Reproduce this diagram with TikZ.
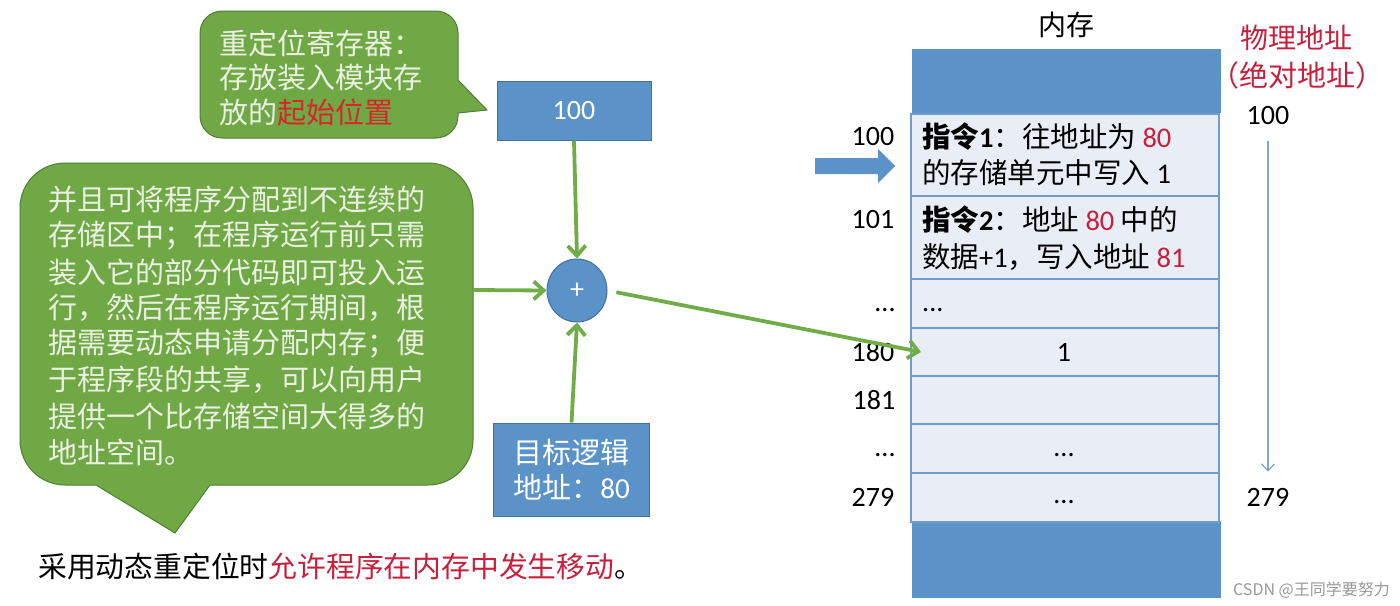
\documentclass[tikz,border=0pt]{standalone}
\usepackage{fontspec}
\setmainfont{Noto Sans CJK SC}
\newfontfamily\lat{Carlito}
\usetikzlibrary{arrows.meta,shapes.geometric}
\definecolor{gfill}{HTML}{70A845}
\definecolor{gdraw}{HTML}{507E32}
\definecolor{garrow}{HTML}{70AD47}
\definecolor{bfill}{HTML}{5B93C8}
\definecolor{bdraw}{HTML}{41719C}
\definecolor{rowfill}{HTML}{E9EEF6}
\definecolor{rowdraw}{HTML}{6D9DCF}
\definecolor{ctext}{HTML}{EAF0E2}
\definecolor{redA}{HTML}{D62828}
\definecolor{redB}{HTML}{C8203C}
\definecolor{thinblue}{HTML}{7FA6D0}
\tikzset{
  callout/.style={fill=gfill, draw=gdraw, line width=1pt},
  bluebox/.style={fill=bfill, draw=bdraw, line width=1pt, inner sep=0pt, text=white},
  gline/.style={draw=garrow, line width=3.8pt, -{Straight Barb[length=10pt,width=18pt]}},
  ctxt/.style={anchor=west, inner sep=0pt, text=ctext, font=\fontsize{29}{36}\selectfont},
  mtxt/.style={inner sep=0pt, font=\fontsize{28}{33}\selectfont, text=black},
  rtxt/.style={anchor=west, inner sep=0pt, font=\fontsize{28.5}{33}\selectfont, text=black},
  memrow/.style={fill=rowfill, draw=rowdraw, line width=1.5pt, anchor=north west, minimum width=308pt, inner sep=0pt},
}
\begin{document}
\begin{tikzpicture}[x=1pt,y=-1pt]
\useasboundingbox (0,0) rectangle (1400,605);
\fill[white] (0,0) rectangle (1400,605);

% top callout
\draw[callout] (487,110) -- (458,80) {[rounded corners=22] -- (458,11) -- (200,11) -- (200,138) -- (458,138)} -- (458,113) -- cycle;
\node[ctxt] (t1) at (219,43) {重定位寄存器：};
\node[ctxt] (t2) at (219,78) {存放装入模块存};
\node[ctxt] (t3) at (219,112) {放的\textcolor{redA}{起始位置}};

% big callout
\draw[callout] (175,533) -- (96,485) {[rounded corners=45] -- (20,485) -- (20,163) -- (473,163) -- (473,485)} -- (210,485) -- cycle;
\node[ctxt] (b1) at (48,200) {并且可将程序分配到不连续的};
\node[ctxt] (b2) at (48,236) {存储区中；在程序运行前只需};
\node[ctxt] (b3) at (48,272) {装入它的部分代码即可投入运};
\node[ctxt] (b4) at (48,308) {行，然后在程序运行期间，根};
\node[ctxt] (b5) at (48,344) {据需要动态申请分配内存；便};
\node[ctxt] (b6) at (48,380) {于程序段的共享，可以向用户};
\node[ctxt] (b7) at (48,416) {提供一个比存储空间大得多的};
\node[ctxt] (b8) at (48,452) {地址空间。};
\coordinate (cw) at (473,290);

% boxes and adder
\node[bluebox, minimum width=154pt, minimum height=59pt, font=\fontsize{28}{30}\selectfont\lat] (reg) at (574,110.5) {100};
\node[ellipse, fill=bfill, draw=bdraw, line width=1pt, minimum width=60pt, minimum height=63pt, inner sep=0pt, text=white, font=\fontsize{28}{28}\selectfont\lat] (plus) at (577,290.5) {+};
\node[bluebox, minimum width=156pt, minimum height=93pt, align=center, font=\fontsize{29}{35}\selectfont] (la) at (571.5,469.5) {目标逻辑\\地址：{\lat 80}};

% memory
\fill[bfill] (912,49) rectangle (1221,113);
\fill[bfill] (912,521) rectangle (1221,598);
\node[memrow, minimum height=82pt] (r1) at (910,113) {};
\node[memrow, minimum height=83pt] (r2) at (910,195) {};
\node[memrow, minimum height=49pt] (r3) at (910,278) {};
\node[memrow, minimum height=48pt] (r4) at (910,327) {};
\node[memrow, minimum height=48pt] (r5) at (910,375) {};
\node[memrow, minimum height=49pt] (r6) at (910,423) {};
\node[memrow, minimum height=49pt] (r7) at (910,472) {};

\node[rtxt] (i1a) at (922,137) {\textbf{指令{\lat 1}}：往地址为 \textcolor{redB}{\lat 80}};
\node[rtxt] (i1b) at (922,173) {的存储单元中写入 {\lat 1}};
\node[rtxt] (i2a) at (922,220) {\textbf{指令{\lat 2}}：地址 \textcolor{redB}{\lat 80} 中的};
\node[rtxt] (i2b) at (922,257) {数据{\lat +1}，写入地址 \textcolor{redB}{\lat 81}};
\node[mtxt, anchor=west] (i3) at (922,310) {\lat ...};
\node[mtxt] (i4) at (1064,352) {\lat 1};
\node[mtxt] (i6) at (1064,455) {\lat ...};
\node[mtxt] (i7) at (1064,502) {\lat ...};

\node[mtxt] (memtitle) at (1066,25) {内存};

% left addresses
\node[mtxt] (l100) at (873,137) {\lat 100};
\node[mtxt] (l101) at (873,220) {\lat 101};
\node[mtxt] (ld1) at (885,310) {\lat ...};
\node[mtxt] (l180) at (873,352) {\lat 180};
\node[mtxt] (l181) at (874,400) {\lat 181};
\node[mtxt] (ld2) at (885,455) {\lat ...};
\node[mtxt] (l279) at (873,497) {\lat 279};

% right physical address
\node[mtxt, text=redB] (phys) at (1296,38) {物理地址};
\node[mtxt, text=redB, font=\fontsize{29}{33}\selectfont] (abs) at (1297,75) {（绝对地址）};
\node[mtxt] (p100) at (1268,116) {\lat 100};
\node[mtxt] (p279) at (1268,497) {\lat 279};
\draw[draw=thinblue, line width=1.2pt, -{Straight Barb[length=7pt,width=13pt]}, shorten <=16pt, shorten >=16pt] (p100.south) -- (p279.north);

% block arrow
\fill[bfill] (815,158) -- (878,158) -- (878,149) -- (895,166) -- (878,183) -- (878,174) -- (815,174) -- cycle;

% connectors
\coordinate (t180) at (921,352);
\draw[gline] (reg.south) -- (plus.north);
\draw[gline] (cw) -- (plus.west);
\draw[gline] (la.north) -- (plus.south);
\draw[gline, shorten <=9pt] (plus.east) -- (t180);

% bottom text
\node[anchor=west, inner sep=0pt, font=\fontsize{28.8}{30}\selectfont] (note) at (38,567) {采用动态重定位时\textcolor{redB}{允许程序在内存中发生移动}。};

\node[anchor=east, inner sep=0pt, text=black!40, font=\fontsize{16}{16}\selectfont] (wm) at (1390,590) {CSDN @王同学要努力};
\end{tikzpicture}
\end{document}
